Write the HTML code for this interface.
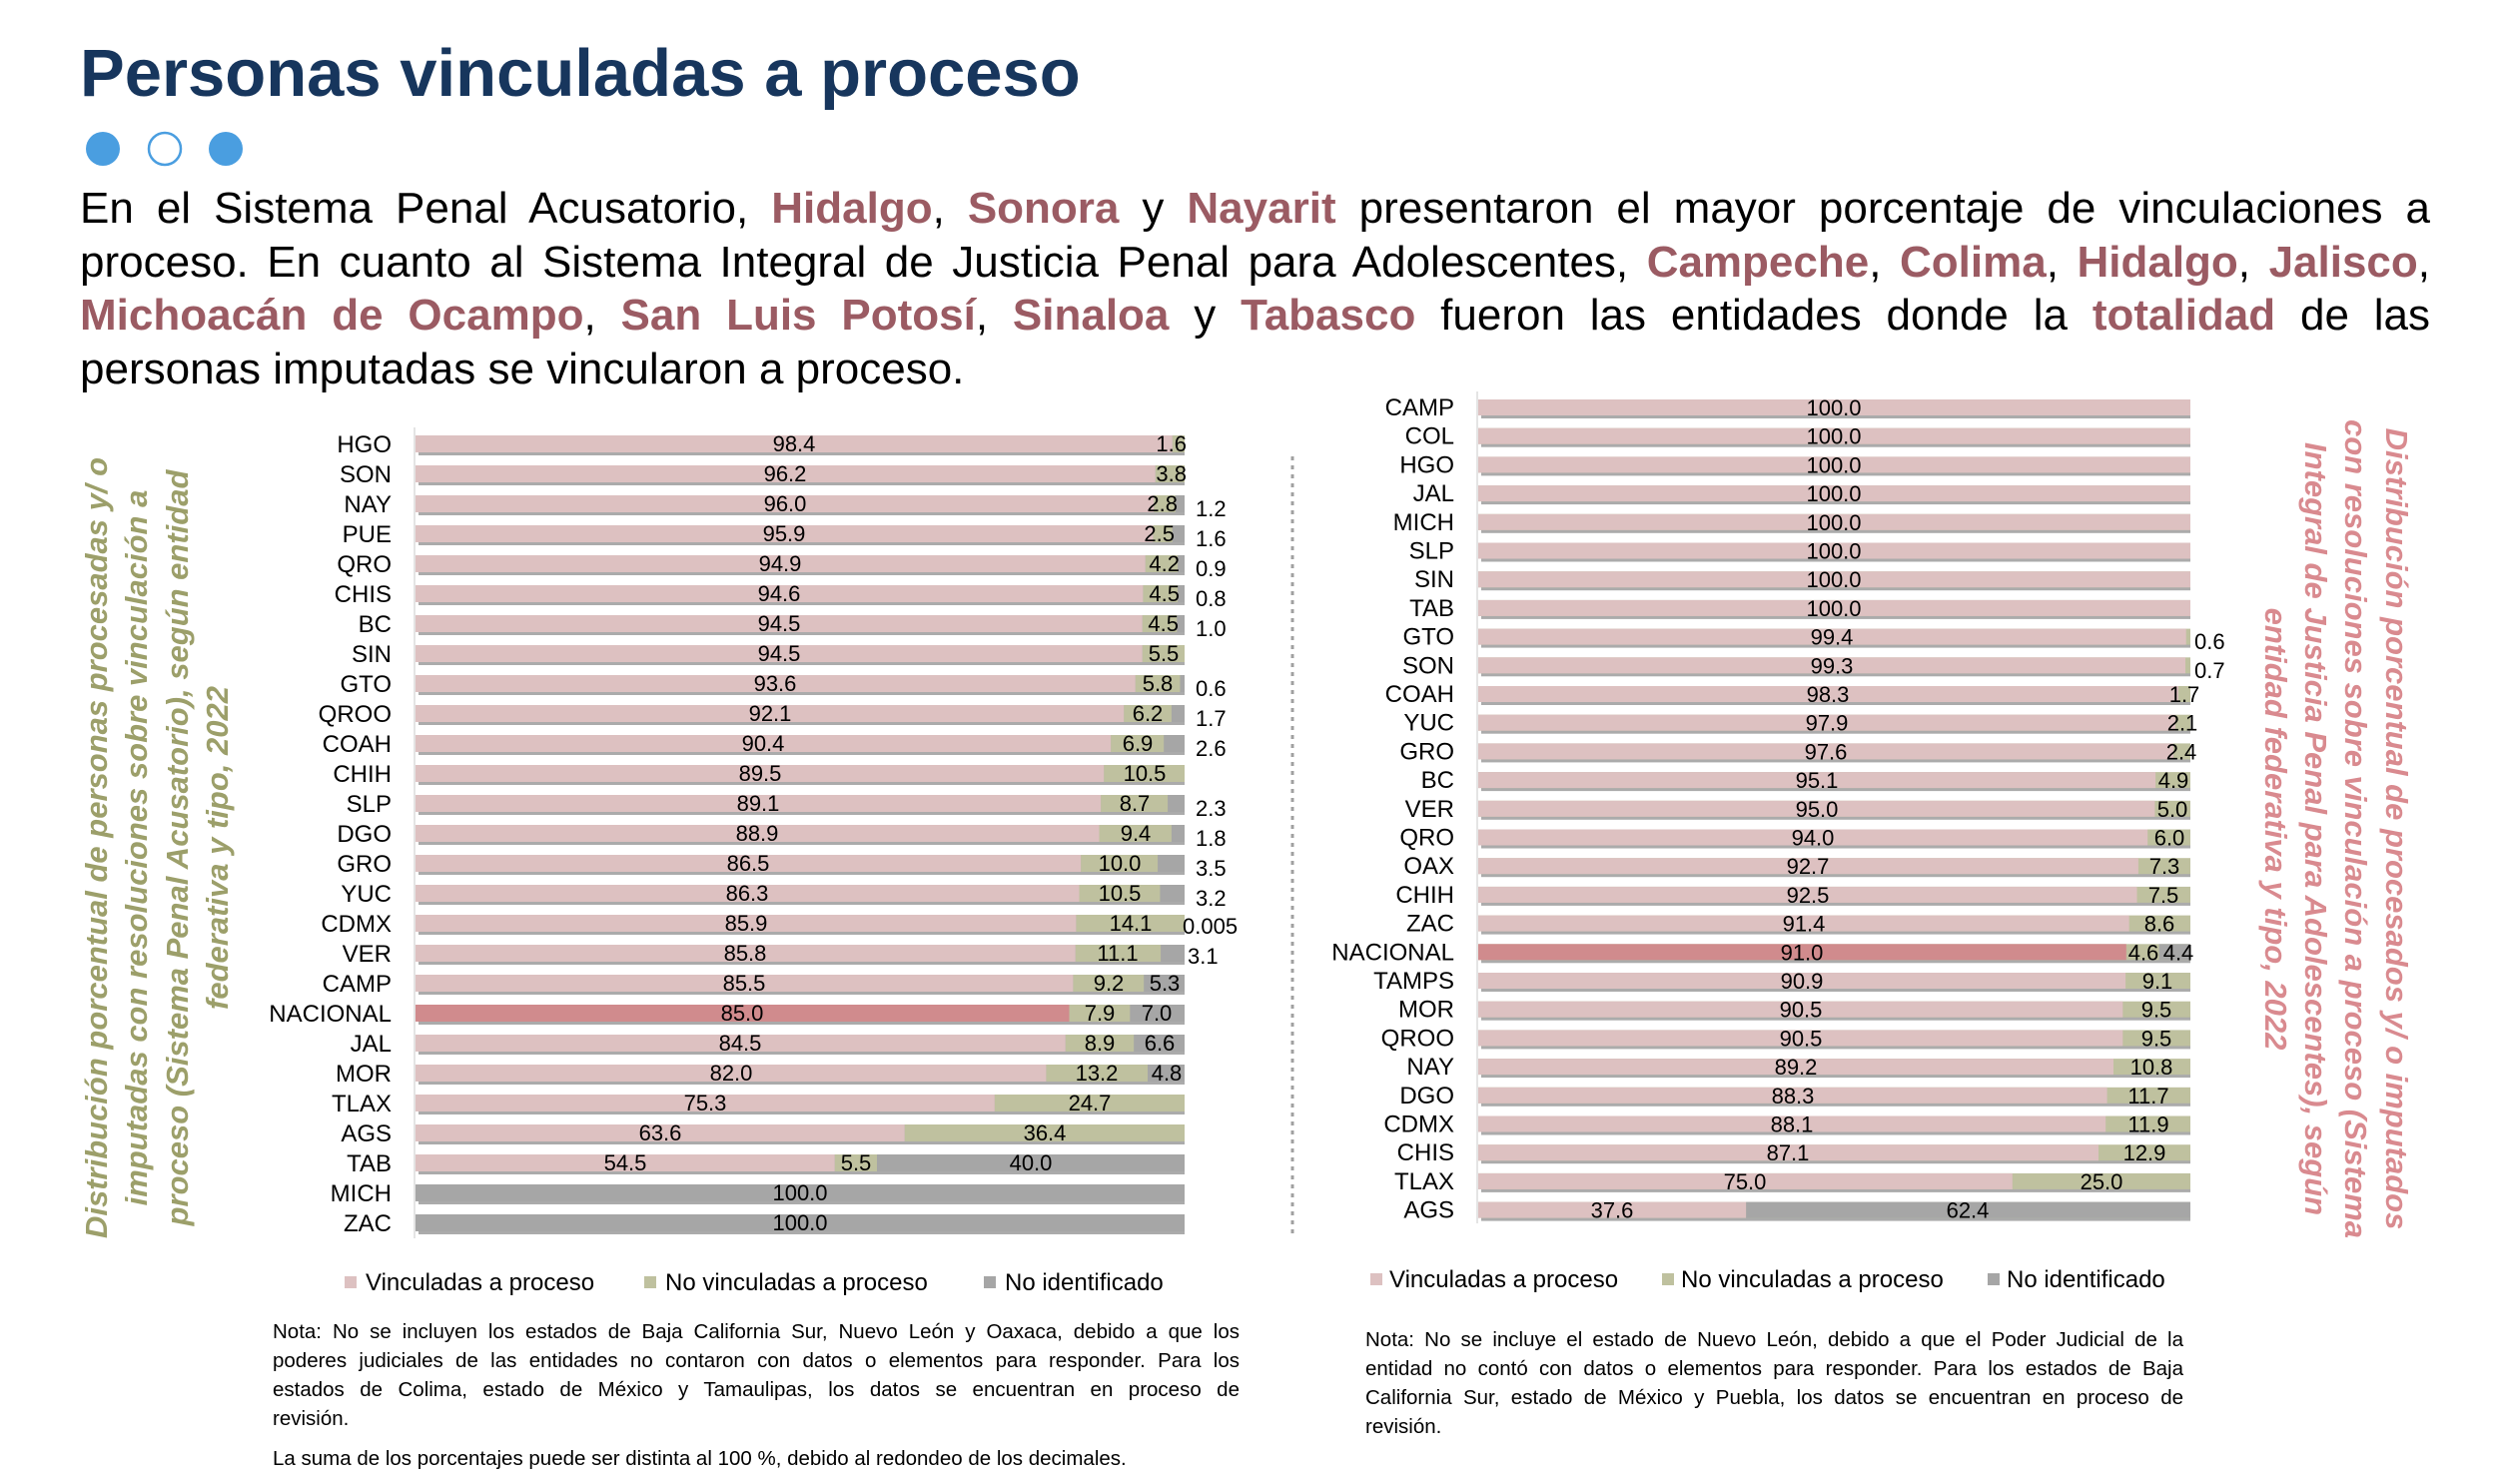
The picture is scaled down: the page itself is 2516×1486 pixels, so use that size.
<!DOCTYPE html>
<html><head><meta charset="utf-8"><style>
html,body{margin:0;padding:0;background:#fff;}
body{width:2516px;height:1486px;position:relative;overflow:hidden;font-family:"Liberation Sans",Arial,sans-serif;}
#t{position:absolute;left:80px;top:34px;font-size:67px;font-weight:bold;color:#17365d;margin:0;line-height:80px;white-space:nowrap;}
#p{position:absolute;left:80px;top:182px;width:2353px;font-size:44px;line-height:53.5px;color:#000;}
#p div,.note div{text-align:justify;text-align-last:justify;white-space:nowrap;}
#p div.l,.note div.l{text-align-last:left;}
#p b{color:#9b5b63;}
.note{position:absolute;font-size:20.5px;line-height:29px;color:#000;}
svg{position:absolute;left:0;top:0;}
</style></head><body>
<div id="t">Personas vinculadas a proceso</div>
<div id="p">
<div>En el Sistema Penal Acusatorio, <b>Hidalgo</b>, <b>Sonora</b> y <b>Nayarit</b> presentaron el mayor porcentaje de vinculaciones a</div>
<div>proceso. En cuanto al Sistema Integral de Justicia Penal para Adolescentes, <b>Campeche</b>, <b>Colima</b>, <b>Hidalgo</b>, <b>Jalisco</b>,</div>
<div><b>Michoacán de Ocampo</b>, <b>San Luis Potosí</b>, <b>Sinaloa</b> y <b>Tabasco</b> fueron las entidades donde la <b>totalidad</b> de las</div>
<div class="l">personas imputadas se vincularon a proceso.</div>
</div>
<div class="note" style="left:273px;top:1319px;width:968px;">
<div>Nota: No se incluyen los estados de Baja California Sur, Nuevo León y Oaxaca, debido a que los</div>
<div>poderes judiciales de las entidades no contaron con datos o elementos para responder. Para los</div>
<div>estados de Colima, estado de México y Tamaulipas, los datos se encuentran en proceso de</div>
<div class="l">revisión.</div>
</div>
<div class="note" style="left:273px;top:1446px;width:968px;"><div class="l">La suma de los porcentajes puede ser distinta al 100 %, debido al redondeo de los decimales.</div></div>
<div class="note" style="left:1367px;top:1327px;width:819px;">
<div>Nota: No se incluye el estado de Nuevo León, debido a que el Poder Judicial de la</div>
<div>entidad no contó con datos o elementos para responder. Para los estados de Baja</div>
<div>California Sur, estado de México y Puebla, los datos se encuentran en proceso de</div>
<div class="l">revisión.</div>
</div>
<svg width="2516" height="1486" viewBox="0 0 2516 1486" font-family="Liberation Sans, Arial, sans-serif">
<circle cx="103" cy="149" r="17" fill="#4a9ee0"/>
<circle cx="165" cy="149" r="16" fill="#fff" stroke="#4a9ee0" stroke-width="2.5"/>
<circle cx="226" cy="149" r="17" fill="#4a9ee0"/>
<g font-size="31" font-weight="bold" font-style="italic" fill="#9c9f6a" text-anchor="middle">
<text transform="translate(107,849) rotate(-90)">Distribución porcentual de personas procesadas y/ o</text>
<text transform="translate(147,849) rotate(-90)">imputadas con resoluciones sobre vinculación a</text>
<text transform="translate(188,849) rotate(-90)">proceso (Sistema Penal Acusatorio), según entidad</text>
<text transform="translate(228,849) rotate(-90)">federativa y tipo, 2022</text>
</g>
<g font-size="31" font-weight="bold" font-style="italic" fill="#d98a8f" text-anchor="middle">
<text transform="translate(2389,830) rotate(90)">Distribución porcentual de procesados y/ o imputados</text>
<text transform="translate(2348,830) rotate(90)">con resoluciones sobre vinculación a proceso (Sistema</text>
<text transform="translate(2308,830) rotate(90)">Integral de Justicia Penal para Adolescentes), según</text>
<text transform="translate(2268,830) rotate(90)">entidad federativa y tipo, 2022</text>
</g>
<line x1="1294" y1="457" x2="1294" y2="1236" stroke="#a0a0a0" stroke-width="3" stroke-dasharray="4,5"/>
<line x1="415" y1="428" x2="415" y2="1240" stroke="#e4e4e4" stroke-width="2"/>
<line x1="1479" y1="392" x2="1479" y2="1225" stroke="#e4e4e4" stroke-width="2"/>
<g fill="#ababab">
<rect x="419" y="439" width="767" height="17"/><rect x="419" y="469" width="767" height="17"/><rect x="419" y="499" width="767" height="17"/><rect x="419" y="529" width="767" height="17"/><rect x="419" y="559" width="767" height="17"/><rect x="419" y="589" width="767" height="17"/><rect x="419" y="619" width="767" height="17"/><rect x="419" y="649" width="767" height="17"/><rect x="419" y="679" width="767" height="17"/><rect x="419" y="709" width="767" height="17"/><rect x="419" y="739" width="767" height="17"/><rect x="419" y="769" width="767" height="17"/><rect x="419" y="799" width="767" height="17"/><rect x="419" y="829" width="767" height="17"/><rect x="419" y="859" width="767" height="17"/><rect x="419" y="889" width="767" height="17"/><rect x="419" y="919" width="767" height="17"/><rect x="419" y="949" width="767" height="17"/><rect x="419" y="979" width="767" height="17"/><rect x="419" y="1009" width="767" height="17"/><rect x="419" y="1039" width="767" height="17"/><rect x="419" y="1069" width="767" height="17"/><rect x="419" y="1099" width="767" height="17"/><rect x="419" y="1129" width="767" height="17"/><rect x="419" y="1159" width="767" height="17"/><rect x="419" y="1189" width="767" height="17"/><rect x="419" y="1219" width="767" height="17"/>
</g>
<g fill="#a6a6a6">
<rect x="416" y="436" width="770" height="17"/><rect x="416" y="466" width="770" height="17"/><rect x="416" y="496" width="770" height="17"/><rect x="416" y="526" width="770" height="17"/><rect x="416" y="556" width="770" height="17"/><rect x="416" y="586" width="770" height="17"/><rect x="416" y="616" width="770" height="17"/><rect x="416" y="646" width="770" height="17"/><rect x="416" y="676" width="770" height="17"/><rect x="416" y="706" width="770" height="17"/><rect x="416" y="736" width="770" height="17"/><rect x="416" y="766" width="770" height="17"/><rect x="416" y="796" width="770" height="17"/><rect x="416" y="826" width="770" height="17"/><rect x="416" y="856" width="770" height="17"/><rect x="416" y="886" width="770" height="17"/><rect x="416" y="916" width="770" height="17"/><rect x="416" y="946" width="770" height="17"/><rect x="416" y="976" width="770" height="17"/><rect x="416" y="1006" width="770" height="17"/><rect x="416" y="1036" width="770" height="17"/><rect x="416" y="1066" width="770" height="17"/><rect x="416" y="1096" width="770" height="17"/><rect x="416" y="1126" width="770" height="17"/><rect x="416" y="1156" width="770" height="17"/><rect x="416" y="1186" width="770" height="17"/><rect x="416" y="1216" width="770" height="17"/>
</g>
<g fill="#bfc19f">
<rect x="1173.7" y="436" width="12.3" height="17"/>
<rect x="1156.7" y="466" width="29.3" height="17"/>
<rect x="1155.2" y="496" width="21.6" height="17"/>
<rect x="1154.4" y="526" width="19.3" height="17"/>
<rect x="1146.7" y="556" width="32.4" height="17"/>
<rect x="1144.4" y="586" width="34.7" height="17"/>
<rect x="1143.7" y="616" width="34.6" height="17"/>
<rect x="1143.7" y="646" width="42.3" height="17"/>
<rect x="1136.7" y="676" width="44.7" height="17"/>
<rect x="1125.2" y="706" width="47.7" height="17"/>
<rect x="1112.1" y="736" width="53.1" height="17"/>
<rect x="1105.2" y="766" width="80.8" height="17"/>
<rect x="1102.1" y="796" width="67" height="17"/>
<rect x="1100.5" y="826" width="72.4" height="17"/>
<rect x="1082.1" y="856" width="77" height="17"/>
<rect x="1080.5" y="886" width="80.9" height="17"/>
<rect x="1077.4" y="916" width="108.6" height="17"/>
<rect x="1076.7" y="946" width="85.4" height="17"/>
<rect x="1074.4" y="976" width="70.8" height="17"/>
<rect x="1070.5" y="1006" width="60.8" height="17"/>
<rect x="1066.7" y="1036" width="68.5" height="17"/>
<rect x="1047.4" y="1066" width="101.6" height="17"/>
<rect x="995.8" y="1096" width="190.2" height="17"/>
<rect x="905.7" y="1126" width="280.3" height="17"/>
<rect x="835.7" y="1156" width="42.3" height="17"/>
</g>
<g fill="#ddc1c1">
<rect x="416" y="436" width="757.7" height="17"/>
<rect x="416" y="466" width="740.7" height="17"/>
<rect x="416" y="496" width="739.2" height="17"/>
<rect x="416" y="526" width="738.4" height="17"/>
<rect x="416" y="556" width="730.7" height="17"/>
<rect x="416" y="586" width="728.4" height="17"/>
<rect x="416" y="616" width="727.7" height="17"/>
<rect x="416" y="646" width="727.7" height="17"/>
<rect x="416" y="676" width="720.7" height="17"/>
<rect x="416" y="706" width="709.2" height="17"/>
<rect x="416" y="736" width="696.1" height="17"/>
<rect x="416" y="766" width="689.2" height="17"/>
<rect x="416" y="796" width="686.1" height="17"/>
<rect x="416" y="826" width="684.5" height="17"/>
<rect x="416" y="856" width="666.1" height="17"/>
<rect x="416" y="886" width="664.5" height="17"/>
<rect x="416" y="916" width="661.4" height="17"/>
<rect x="416" y="946" width="660.7" height="17"/>
<rect x="416" y="976" width="658.4" height="17"/>
<rect x="416" y="1006" width="654.5" height="17" fill="#d08b8d"/>
<rect x="416" y="1036" width="650.7" height="17"/>
<rect x="416" y="1066" width="631.4" height="17"/>
<rect x="416" y="1096" width="579.8" height="17"/>
<rect x="416" y="1126" width="489.7" height="17"/>
<rect x="416" y="1156" width="419.7" height="17"/>
</g>
<g font-size="24" fill="#000" text-anchor="end">
<text x="392" y="453">HGO</text><text x="392" y="483">SON</text><text x="392" y="513">NAY</text><text x="392" y="543">PUE</text><text x="392" y="573">QRO</text><text x="392" y="603">CHIS</text><text x="392" y="633">BC</text><text x="392" y="663">SIN</text><text x="392" y="693">GTO</text><text x="392" y="723">QROO</text><text x="392" y="753">COAH</text><text x="392" y="783">CHIH</text><text x="392" y="813">SLP</text><text x="392" y="843">DGO</text><text x="392" y="873">GRO</text><text x="392" y="903">YUC</text><text x="392" y="933">CDMX</text><text x="392" y="963">VER</text><text x="392" y="993">CAMP</text><text x="392" y="1023">NACIONAL</text><text x="392" y="1053">JAL</text><text x="392" y="1083">MOR</text><text x="392" y="1113">TLAX</text><text x="392" y="1143">AGS</text><text x="392" y="1173">TAB</text><text x="392" y="1203">MICH</text><text x="392" y="1233">ZAC</text>
</g>
<g font-size="22" fill="#000" text-anchor="middle">
<text x="795" y="452">98.4</text><text x="786" y="482">96.2</text><text x="786" y="512">96.0</text><text x="785" y="542">95.9</text><text x="781" y="572">94.9</text><text x="780" y="602">94.6</text><text x="780" y="632">94.5</text><text x="780" y="662">94.5</text><text x="776" y="692">93.6</text><text x="771" y="722">92.1</text><text x="764" y="752">90.4</text><text x="761" y="782">89.5</text><text x="759" y="812">89.1</text><text x="758" y="842">88.9</text><text x="749" y="872">86.5</text><text x="748" y="902">86.3</text><text x="747" y="932">85.9</text><text x="746" y="962">85.8</text><text x="745" y="992">85.5</text><text x="743" y="1022">85.0</text><text x="741" y="1052">84.5</text><text x="732" y="1082">82.0</text><text x="706" y="1112">75.3</text><text x="661" y="1142">63.6</text><text x="626" y="1172">54.5</text><text x="801" y="1202">100.0</text><text x="801" y="1232">100.0</text>
<text x="1165" y="662">5.5</text><text x="1159" y="692">5.8</text><text x="1149" y="722">6.2</text><text x="1139" y="752">6.9</text><text x="1146" y="782">10.5</text><text x="1136" y="812">8.7</text><text x="1137" y="842">9.4</text><text x="1121" y="872">10.0</text><text x="1121" y="902">10.5</text><text x="1132" y="932">14.1</text><text x="1119" y="962">11.1</text><text x="1110" y="992">9.2</text><text x="1101" y="1022">7.9</text><text x="1101" y="1052">8.9</text><text x="1098" y="1082">13.2</text><text x="1091" y="1112">24.7</text><text x="1046" y="1142">36.4</text><text x="857" y="1172">5.5</text>
<text x="1166" y="992">5.3</text><text x="1158" y="1022">7.0</text><text x="1161" y="1052">6.6</text><text x="1168" y="1082">4.8</text><text x="1032" y="1172">40.0</text>
</g>
<g font-size="22" fill="#000" text-anchor="end">
<text x="1188" y="452">1.6</text><text x="1188" y="482">3.8</text><text x="1179" y="512">2.8</text><text x="1176" y="542">2.5</text><text x="1181" y="572">4.2</text><text x="1181" y="602">4.5</text><text x="1180" y="632">4.5</text>
</g>
<g font-size="22" fill="#000">
<text x="1197" y="517">1.2</text><text x="1197" y="547">1.6</text><text x="1197" y="577">0.9</text><text x="1197" y="607">0.8</text><text x="1197" y="637">1.0</text><text x="1197" y="697">0.6</text><text x="1197" y="727">1.7</text><text x="1197" y="757">2.6</text><text x="1197" y="817">2.3</text><text x="1197" y="847">1.8</text><text x="1197" y="877">3.5</text><text x="1197" y="907">3.2</text><text x="1184" y="935">0.005</text><text x="1189" y="965">3.1</text>
</g>
<rect x="345" y="1278" width="12" height="12" fill="#ddc1c1"/><text x="366" y="1292" font-size="24">Vinculadas a proceso</text>
<rect x="645" y="1278" width="12" height="12" fill="#bfc19f"/><text x="666" y="1292" font-size="24">No vinculadas a proceso</text>
<rect x="985" y="1278" width="12" height="12" fill="#a6a6a6"/><text x="1006" y="1292" font-size="24">No identificado</text>
<g fill="#ababab">
<rect x="1483" y="403" width="710" height="16"/><rect x="1483" y="431.7" width="710" height="16"/><rect x="1483" y="460.4" width="710" height="16"/><rect x="1483" y="489.1" width="710" height="16"/><rect x="1483" y="517.8" width="710" height="16"/><rect x="1483" y="546.5" width="710" height="16"/><rect x="1483" y="575.2" width="710" height="16"/><rect x="1483" y="603.9" width="710" height="16"/><rect x="1483" y="632.6" width="710" height="16"/><rect x="1483" y="661.3" width="710" height="16"/><rect x="1483" y="690" width="710" height="16"/><rect x="1483" y="718.7" width="710" height="16"/><rect x="1483" y="747.4" width="710" height="16"/><rect x="1483" y="776.1" width="710" height="16"/><rect x="1483" y="804.8" width="710" height="16"/><rect x="1483" y="833.5" width="710" height="16"/><rect x="1483" y="862.2" width="710" height="16"/><rect x="1483" y="890.9" width="710" height="16"/><rect x="1483" y="919.6" width="710" height="16"/><rect x="1483" y="948.3" width="710" height="16"/><rect x="1483" y="977" width="710" height="16"/><rect x="1483" y="1005.7" width="710" height="16"/><rect x="1483" y="1034.4" width="710" height="16"/><rect x="1483" y="1063.1" width="710" height="16"/><rect x="1483" y="1091.8" width="710" height="16"/><rect x="1483" y="1120.5" width="710" height="16"/><rect x="1483" y="1149.2" width="710" height="16"/><rect x="1483" y="1177.9" width="710" height="16"/><rect x="1483" y="1206.6" width="710" height="16"/>
</g>
<g fill="#bfc19f">
<rect x="1480" y="400" width="713" height="16"/><rect x="1480" y="428.7" width="713" height="16"/><rect x="1480" y="457.4" width="713" height="16"/><rect x="1480" y="486.1" width="713" height="16"/><rect x="1480" y="514.8" width="713" height="16"/><rect x="1480" y="543.5" width="713" height="16"/><rect x="1480" y="572.2" width="713" height="16"/><rect x="1480" y="600.9" width="713" height="16"/><rect x="1480" y="629.6" width="713" height="16"/><rect x="1480" y="658.3" width="713" height="16"/><rect x="1480" y="687" width="713" height="16"/><rect x="1480" y="715.7" width="713" height="16"/><rect x="1480" y="744.4" width="713" height="16"/><rect x="1480" y="773.1" width="713" height="16"/><rect x="1480" y="801.8" width="713" height="16"/><rect x="1480" y="830.5" width="713" height="16"/><rect x="1480" y="859.2" width="713" height="16"/><rect x="1480" y="887.9" width="713" height="16"/><rect x="1480" y="916.6" width="713" height="16"/><rect x="1480" y="945.3" width="713" height="16"/><rect x="1480" y="974" width="713" height="16"/><rect x="1480" y="1002.7" width="713" height="16"/><rect x="1480" y="1031.4" width="713" height="16"/><rect x="1480" y="1060.1" width="713" height="16"/><rect x="1480" y="1088.8" width="713" height="16"/><rect x="1480" y="1117.5" width="713" height="16"/><rect x="1480" y="1146.2" width="713" height="16"/><rect x="1480" y="1174.9" width="713" height="16"/><rect x="1480" y="1203.6" width="713" height="16"/>
</g>
<g fill="#a6a6a6">
<rect x="2161.6" y="945.3" width="31.4" height="16"/>
<rect x="1748.1" y="1203.6" width="444.9" height="16"/>
</g>
<g fill="#ddc1c1">
<rect x="1480" y="400" width="713" height="16"/><rect x="1480" y="428.7" width="713" height="16"/><rect x="1480" y="457.4" width="713" height="16"/><rect x="1480" y="486.1" width="713" height="16"/><rect x="1480" y="514.8" width="713" height="16"/><rect x="1480" y="543.5" width="713" height="16"/><rect x="1480" y="572.2" width="713" height="16"/><rect x="1480" y="600.9" width="713" height="16"/>
<rect x="1480" y="629.6" width="708.7" height="16"/>
<rect x="1480" y="658.3" width="708" height="16"/>
<rect x="1480" y="687" width="700.9" height="16"/>
<rect x="1480" y="715.7" width="698" height="16"/>
<rect x="1480" y="744.4" width="695.9" height="16"/>
<rect x="1480" y="773.1" width="678.1" height="16"/>
<rect x="1480" y="801.8" width="677.4" height="16"/>
<rect x="1480" y="830.5" width="670.2" height="16"/>
<rect x="1480" y="859.2" width="660.9" height="16"/>
<rect x="1480" y="887.9" width="659.5" height="16"/>
<rect x="1480" y="916.6" width="651.7" height="16"/>
<rect x="1480" y="945.3" width="648.8" height="16" fill="#d08b8d"/>
<rect x="1480" y="974" width="648.1" height="16"/>
<rect x="1480" y="1002.7" width="645.3" height="16"/>
<rect x="1480" y="1031.4" width="645.3" height="16"/>
<rect x="1480" y="1060.1" width="636" height="16"/>
<rect x="1480" y="1088.8" width="629.6" height="16"/>
<rect x="1480" y="1117.5" width="628.2" height="16"/>
<rect x="1480" y="1146.2" width="621" height="16"/>
<rect x="1480" y="1174.9" width="534.8" height="16"/>
<rect x="1480" y="1203.6" width="268.1" height="16"/>
</g>
<g font-size="24" fill="#000" text-anchor="end">
<text x="1456" y="416">CAMP</text><text x="1456" y="444.7">COL</text><text x="1456" y="473.4">HGO</text><text x="1456" y="502.1">JAL</text><text x="1456" y="530.8">MICH</text><text x="1456" y="559.5">SLP</text><text x="1456" y="588.2">SIN</text><text x="1456" y="616.9">TAB</text><text x="1456" y="645.6">GTO</text><text x="1456" y="674.3">SON</text><text x="1456" y="703">COAH</text><text x="1456" y="731.7">YUC</text><text x="1456" y="760.4">GRO</text><text x="1456" y="789.1">BC</text><text x="1456" y="817.8">VER</text><text x="1456" y="846.5">QRO</text><text x="1456" y="875.2">OAX</text><text x="1456" y="903.9">CHIH</text><text x="1456" y="932.6">ZAC</text><text x="1456" y="961.3">NACIONAL</text><text x="1456" y="990">TAMPS</text><text x="1456" y="1018.7">MOR</text><text x="1456" y="1047.4">QROO</text><text x="1456" y="1076.1">NAY</text><text x="1456" y="1104.8">DGO</text><text x="1456" y="1133.5">CDMX</text><text x="1456" y="1162.2">CHIS</text><text x="1456" y="1190.9">TLAX</text><text x="1456" y="1219.6">AGS</text>
</g>
<g font-size="22" fill="#000" text-anchor="middle">
<text x="1836" y="416">100.0</text><text x="1836" y="444.7">100.0</text><text x="1836" y="473.4">100.0</text><text x="1836" y="502.1">100.0</text><text x="1836" y="530.8">100.0</text><text x="1836" y="559.5">100.0</text><text x="1836" y="588.2">100.0</text><text x="1836" y="616.9">100.0</text>
<text x="1834" y="645.6">99.4</text><text x="1834" y="674.3">99.3</text><text x="1830" y="703">98.3</text><text x="1829" y="731.7">97.9</text><text x="1828" y="760.4">97.6</text><text x="1819" y="789.1">95.1</text><text x="1819" y="817.8">95.0</text><text x="1815" y="846.5">94.0</text><text x="1810" y="875.2">92.7</text><text x="1810" y="903.9">92.5</text><text x="1806" y="932.6">91.4</text><text x="1804" y="961.3">91.0</text><text x="1804" y="990">90.9</text><text x="1803" y="1018.7">90.5</text><text x="1803" y="1047.4">90.5</text><text x="1798" y="1076.1">89.2</text><text x="1795" y="1104.8">88.3</text><text x="1794" y="1133.5">88.1</text><text x="1790" y="1162.2">87.1</text><text x="1747" y="1190.9">75.0</text><text x="1614" y="1219.6">37.6</text>
<text x="2187" y="703">1.7</text><text x="2185" y="731.7">2.1</text><text x="2184" y="760.4">2.4</text><text x="2176" y="789.1">4.9</text><text x="2175" y="817.8">5.0</text><text x="2172" y="846.5">6.0</text><text x="2167" y="875.2">7.3</text><text x="2166" y="903.9">7.5</text><text x="2162" y="932.6">8.6</text><text x="2146" y="961.3">4.6</text><text x="2181" y="961.3">4.4</text><text x="2160" y="990">9.1</text><text x="2159" y="1018.7">9.5</text><text x="2159" y="1047.4">9.5</text><text x="2154" y="1076.1">10.8</text><text x="2151" y="1104.8">11.7</text><text x="2151" y="1133.5">11.9</text><text x="2147" y="1162.2">12.9</text><text x="2104" y="1190.9">25.0</text><text x="1970" y="1219.6">62.4</text>
</g>
<g font-size="22" fill="#000">
<text x="2197" y="650">0.6</text><text x="2197" y="679">0.7</text>
</g>
<rect x="1372" y="1275" width="12" height="12" fill="#ddc1c1"/><text x="1391" y="1289" font-size="24">Vinculadas a proceso</text>
<rect x="1664" y="1275" width="12" height="12" fill="#bfc19f"/><text x="1683" y="1289" font-size="24">No vinculadas a proceso</text>
<rect x="1990" y="1275" width="12" height="12" fill="#a6a6a6"/><text x="2009" y="1289" font-size="24">No identificado</text>
</svg>
</body></html>
